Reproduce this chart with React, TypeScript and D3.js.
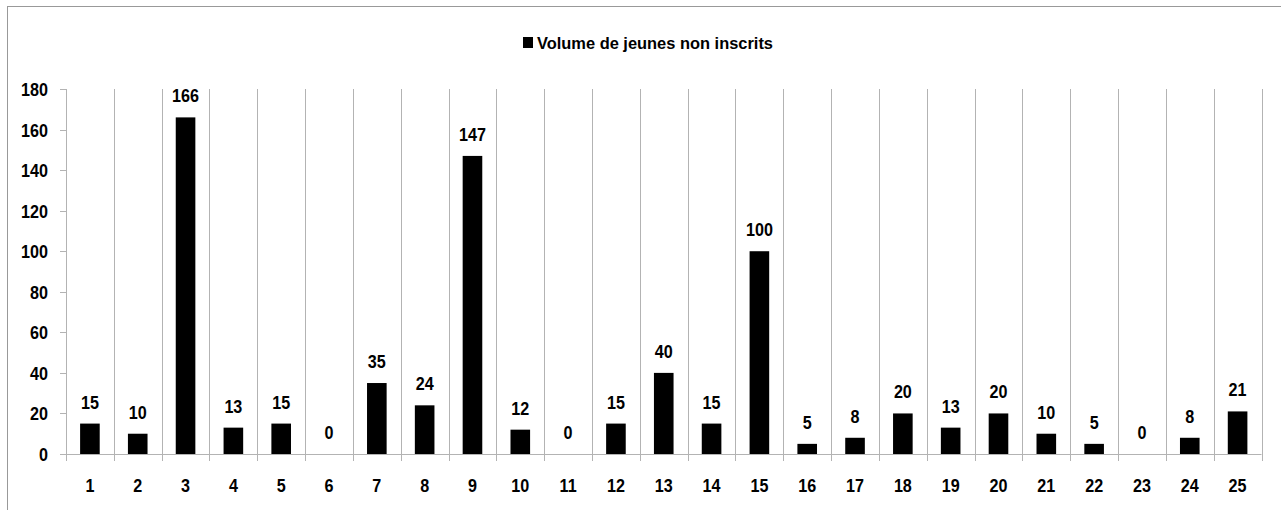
import React, { useEffect, useRef } from 'react';
import * as d3 from 'd3';

const categories = ['1', '2', '3', '4', '5', '6', '7', '8', '9', '10', '11', '12', '13',
  '14', '15', '16', '17', '18', '19', '20', '21', '22', '23', '24', '25'];
const values = [15, 10, 166, 13, 15, 0, 35, 24, 147, 12, 0, 15, 40, 15, 100, 5, 8, 20, 13, 20, 10, 5, 0, 8, 21];
const yTicks = [0, 20, 40, 60, 80, 100, 120, 140, 160, 180];
const seriesName = 'Volume de jeunes non inscrits';

const FONT = "'Liberation Sans', Arial, sans-serif";
const SX = 0.85; // narrow the glyphs a bit, like the original Calibri

const App = () => {
  const svgRef = useRef<SVGSVGElement>(null);

  useEffect(() => {
    const svg = d3.select(svgRef.current);
    svg.selectAll('*').remove();

    const width = 1281;
    const height = 510;
    const margin = { top: 89, right: 19.5, bottom: 56, left: 66 };

    const x = d3.scaleBand()
      .domain(categories)
      .range([margin.left, width - margin.right])
      .paddingInner(0)
      .paddingOuter(0);

    const y = d3.scaleLinear()
      .domain([0, 180])
      .range([height - margin.bottom, margin.top]);

    const grid = '#b3b3b3';
    const at = (px: number, py: number) => `translate(${px},${py}) scale(${SX},1)`;

    // chart border
    svg.append('rect')
      .attr('x', 7.5).attr('y', 6.5)
      .attr('width', 1300).attr('height', 600)
      .attr('fill', 'none')
      .attr('stroke', '#999');

    // vertical gridlines between categories
    const bounds = categories.map(c => x(c)! + x.bandwidth());
    svg.append('g')
      .selectAll('line')
      .data(bounds)
      .join('line')
      .attr('x1', d => Math.round(d) + 0.5)
      .attr('x2', d => Math.round(d) + 0.5)
      .attr('y1', y(180))
      .attr('y2', y(0) + 7)
      .attr('stroke', grid);

    // y axis line + ticks
    svg.append('line')
      .attr('x1', margin.left + 0.5).attr('x2', margin.left + 0.5)
      .attr('y1', y(180)).attr('y2', y(0))
      .attr('stroke', grid);
    svg.append('g')
      .selectAll('line')
      .data(yTicks)
      .join('line')
      .attr('x1', margin.left - 6)
      .attr('x2', margin.left)
      .attr('y1', d => Math.round(y(d)) + 0.5)
      .attr('y2', d => Math.round(y(d)) + 0.5)
      .attr('stroke', grid);

    // x axis line
    svg.append('line')
      .attr('x1', margin.left).attr('x2', width - margin.right)
      .attr('y1', Math.round(y(0)) + 0.5).attr('y2', Math.round(y(0)) + 0.5)
      .attr('stroke', grid);
    svg.append('line')
      .attr('x1', margin.left + 0.5).attr('x2', margin.left + 0.5)
      .attr('y1', y(0)).attr('y2', y(0) + 7)
      .attr('stroke', grid);

    // y labels
    svg.append('g')
      .selectAll('text')
      .data(yTicks)
      .join('text')
      .attr('transform', d => at(48, y(d) + 7))
      .attr('text-anchor', 'end')
      .attr('font-family', FONT)
      .attr('font-weight', 'bold')
      .attr('font-size', 19)
      .text(d => d);

    // x labels
    svg.append('g')
      .selectAll('text')
      .data(categories)
      .join('text')
      .attr('transform', d => at(x(d)! + x.bandwidth() / 2, 492))
      .attr('text-anchor', 'middle')
      .attr('font-family', FONT)
      .attr('font-weight', 'bold')
      .attr('font-size', 19)
      .text(d => d);

    // bars
    const barW = x.bandwidth() * 0.41;
    svg.append('g')
      .selectAll('rect')
      .data(values)
      .join('rect')
      .attr('x', (d, i) => x(categories[i])! + (x.bandwidth() - barW) / 2)
      .attr('y', d => y(d))
      .attr('width', barW)
      .attr('height', d => y(0) - y(d))
      .attr('fill', '#000');

    // value labels
    svg.append('g')
      .selectAll('text')
      .data(values)
      .join('text')
      .attr('transform', (d, i) => at(x(categories[i])! + x.bandwidth() / 2, y(d) - 15))
      .attr('text-anchor', 'middle')
      .attr('font-family', FONT)
      .attr('font-weight', 'bold')
      .attr('font-size', 19)
      .text(d => d);

    // legend
    const legend = svg.append('g');
    legend.append('rect')
      .attr('x', 523).attr('y', 37)
      .attr('width', 10).attr('height', 11)
      .attr('fill', '#000');
    legend.append('text')
      .attr('x', 537).attr('y', 49)
      .attr('font-family', FONT)
      .attr('font-weight', 'bold')
      .attr('font-size', 17)
      .attr('textLength', 236)
      .attr('lengthAdjust', 'spacingAndGlyphs')
      .text(seriesName);
  }, []);

  return (
    <svg ref={svgRef} width={1281} height={510}
      style={{ position: 'absolute', left: 0, top: 0, background: '#fff' }} />
  );
};

export default App;
